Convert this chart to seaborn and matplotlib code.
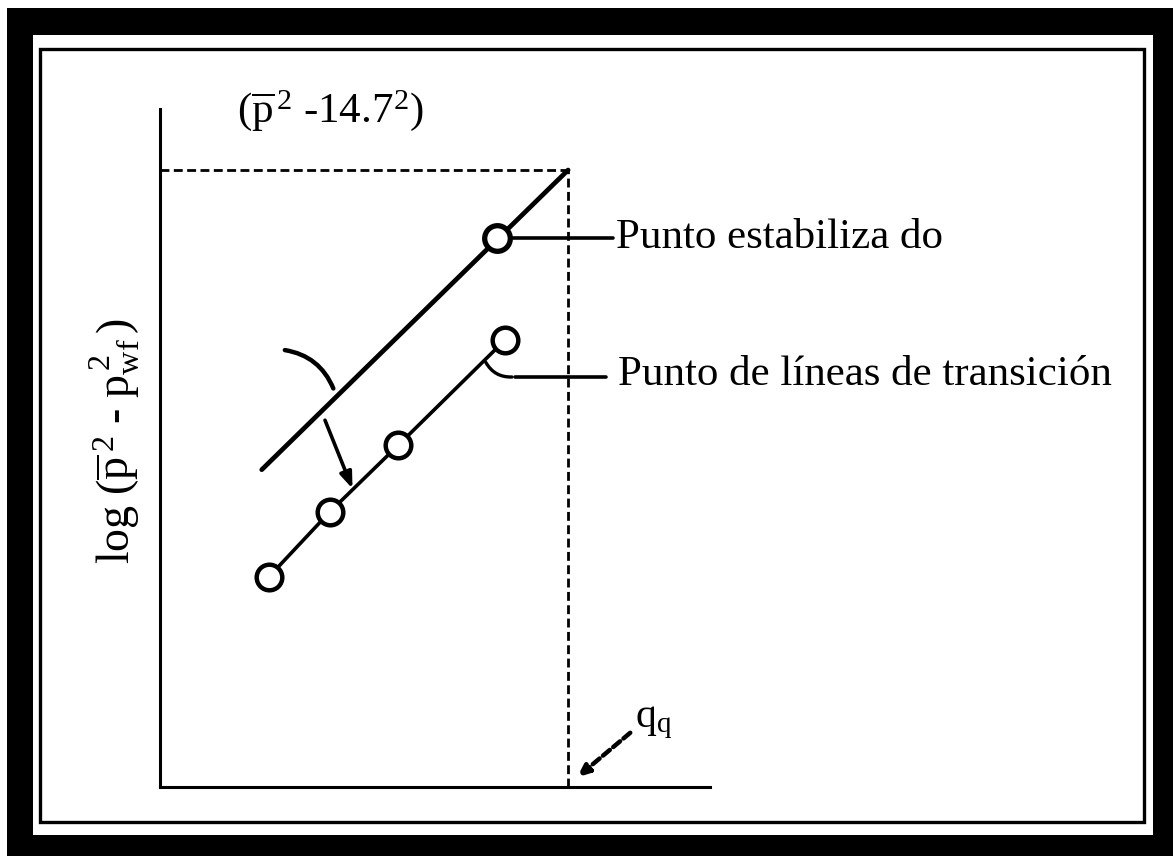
import matplotlib
matplotlib.use("Agg")
import matplotlib.pyplot as plt
from matplotlib.patches import Rectangle
import seaborn as sns
import pandas as pd

# Stabilized deliverability line and its measured point
stab_line_q = [1.85, 7.42]
stab_line_logdp = [4.68, 9.10]
stab_point_q = [6.13]
stab_point_logdp = [8.10]

# Transient (isochronal) points
trans_q = [1.98, 3.09, 4.33, 6.27]
trans_logdp = [3.10, 4.06, 5.04, 6.59]

# Reference levels: qq and (p^2 - 14.7^2)
q_ref = 7.42
dp_ref = 9.10

# Annotation anchors (data units)
shift_curve = [(2.22, 6.45), (3.17, 5.84)]
shift_arrow = [(3.00, 5.41), (3.50, 4.40)]
stab_leader = [(6.35, 8.10), (8.24, 8.10)]
trans_leader = [(5.90, 6.30), (6.45, 6.05), (8.11, 6.05)]
qq_arrow = [(8.55, 0.80), (7.58, 0.14)]

HY = "\u2010"  # plain hyphen (mathtext turns '-' into a long minus)
label_stab = "Punto estabiliza do"
label_trans = "Punto de líneas de transición"
label_top = r"$(\overline{\mathrm{p}}^{\,2}\ " + HY + r"\mathrm{14.7}^{2})$"
label_y = (r"$\mathrm{log}\ (\overline{\mathrm{p}}^{\,2}\ " + HY
           + r"\ \mathrm{p}_{\mathrm{wf}}^{\,2}\,)$")
label_q = r"$\mathrm{q}_{\mathrm{q}}$"

sns.set_theme(style="white")
plt.rcParams["font.family"] = ["Liberation Serif", "DejaVu Serif"]
plt.rcParams["mathtext.fontset"] = "custom"
plt.rcParams["mathtext.rm"] = "Liberation Serif"
plt.rcParams["mathtext.it"] = "Liberation Serif:italic"
plt.rcParams["mathtext.bf"] = "Liberation Serif:bold"
plt.rcParams["mathtext.fallback"] = "cm"

W, H = 1173, 856
fig = plt.figure(figsize=(W / 100, H / 100), dpi=100)
fig.patch.set_facecolor("white")

# Double frame around the figure
fig.add_artist(Rectangle((7 / W, 0), (W - 7) / W, (H - 8) / H, transform=fig.transFigure,
                         facecolor="black", edgecolor="none", zorder=0))
fig.add_artist(Rectangle((33 / W, (H - 835) / H), (1153 - 33) / W, (835 - 35) / H,
                         transform=fig.transFigure, facecolor="white", edgecolor="none", zorder=0))
fig.add_artist(Rectangle((39.5 / W, (H - 821.5) / H), (1143.5 - 39.5) / W, (821.5 - 48.5) / H,
                         transform=fig.transFigure, facecolor="none", edgecolor="black",
                         linewidth=2.4, zorder=1))

ax = fig.add_axes([160 / W, (H - 787) / H, 550 / W, (787 - 109) / H])
ax.set_facecolor("none")
ax.set_xlim(0, 10)
ax.set_ylim(0, 10)
ax.set_xticks([])
ax.set_yticks([])
for s in ("top", "right"):
    ax.spines[s].set_visible(False)
for s in ("left", "bottom"):
    ax.spines[s].set_color("black")
    ax.spines[s].set_linewidth(2.2)

dash = (0, (3.2, 1.6))
ax.plot([0, q_ref], [dp_ref, dp_ref], color="black", lw=2.0, linestyle=dash, clip_on=False)
ax.plot([q_ref, q_ref], [0, dp_ref], color="black", lw=2.0, linestyle=dash, clip_on=False)

stab_df = pd.DataFrame({"q": stab_line_q, "dp": stab_line_logdp})
sns.lineplot(data=stab_df, x="q", y="dp", ax=ax, color="black", lw=3.4, sort=False)

trans_df = pd.DataFrame({"q": trans_q, "dp": trans_logdp})
sns.lineplot(data=trans_df, x="q", y="dp", ax=ax, color="black", lw=2.6, sort=False)
sns.scatterplot(data=trans_df, x="q", y="dp", ax=ax, marker="o", s=340,
                facecolor="white", edgecolor="black", linewidth=3.2, zorder=5)

pt_df = pd.DataFrame({"q": stab_point_q, "dp": stab_point_logdp})
sns.scatterplot(data=pt_df, x="q", y="dp", ax=ax, marker="o", s=340,
                facecolor="white", edgecolor="black", linewidth=3.8, zorder=5)

# Leaders to the labels
ax.plot(*zip(*stab_leader), color="black", lw=2.6, clip_on=False)
ax.annotate("", xy=trans_leader[1], xytext=trans_leader[0],
            arrowprops=dict(arrowstyle="-", color="black", lw=2.4,
                            connectionstyle="arc3,rad=0.35"), annotation_clip=False)
ax.plot(*zip(*trans_leader[1:]), color="black", lw=2.6, clip_on=False)

ax.text(stab_leader[1][0] + 0.06, stab_leader[1][1], label_stab, fontsize=31,
        ha="left", va="center", color="black")
ax.text(trans_leader[2][0] + 0.22, trans_leader[2][1] + 0.03, label_trans, fontsize=31,
        ha="left", va="center", color="black", clip_on=False)

# Shift indicator between the two lines
ax.annotate("", xy=shift_curve[1], xytext=shift_curve[0],
            arrowprops=dict(arrowstyle="-", color="black", lw=3.2,
                            connectionstyle="arc3,rad=-0.3"))
ax.annotate("", xy=shift_arrow[1], xytext=shift_arrow[0],
            arrowprops=dict(arrowstyle="-|>,head_length=0.8,head_width=0.3",
                            color="black", lw=2.6, shrinkA=0, shrinkB=0))

# qq pointer
ax.annotate("", xy=qq_arrow[1], xytext=qq_arrow[0],
            arrowprops=dict(arrowstyle="-|>,head_length=0.6,head_width=0.25",
                            color="black", lw=3.2, linestyle=(0, (2, 1)),
                            shrinkA=0, shrinkB=0), annotation_clip=False)
ax.text(qq_arrow[0][0] + 0.08, qq_arrow[0][1 ] - 0.12, label_q, fontsize=30,
        ha="left", va="bottom", color="black")

ax.text(3.1, 9.98, label_top, fontsize=31, ha="center", va="center",
        color="black", clip_on=False)
ax.text(-0.082, 0.51, label_y, fontsize=33, rotation=90, ha="center", va="center",
        color="black", transform=ax.transAxes)

fig.savefig("out.png", dpi=100, facecolor="white")
